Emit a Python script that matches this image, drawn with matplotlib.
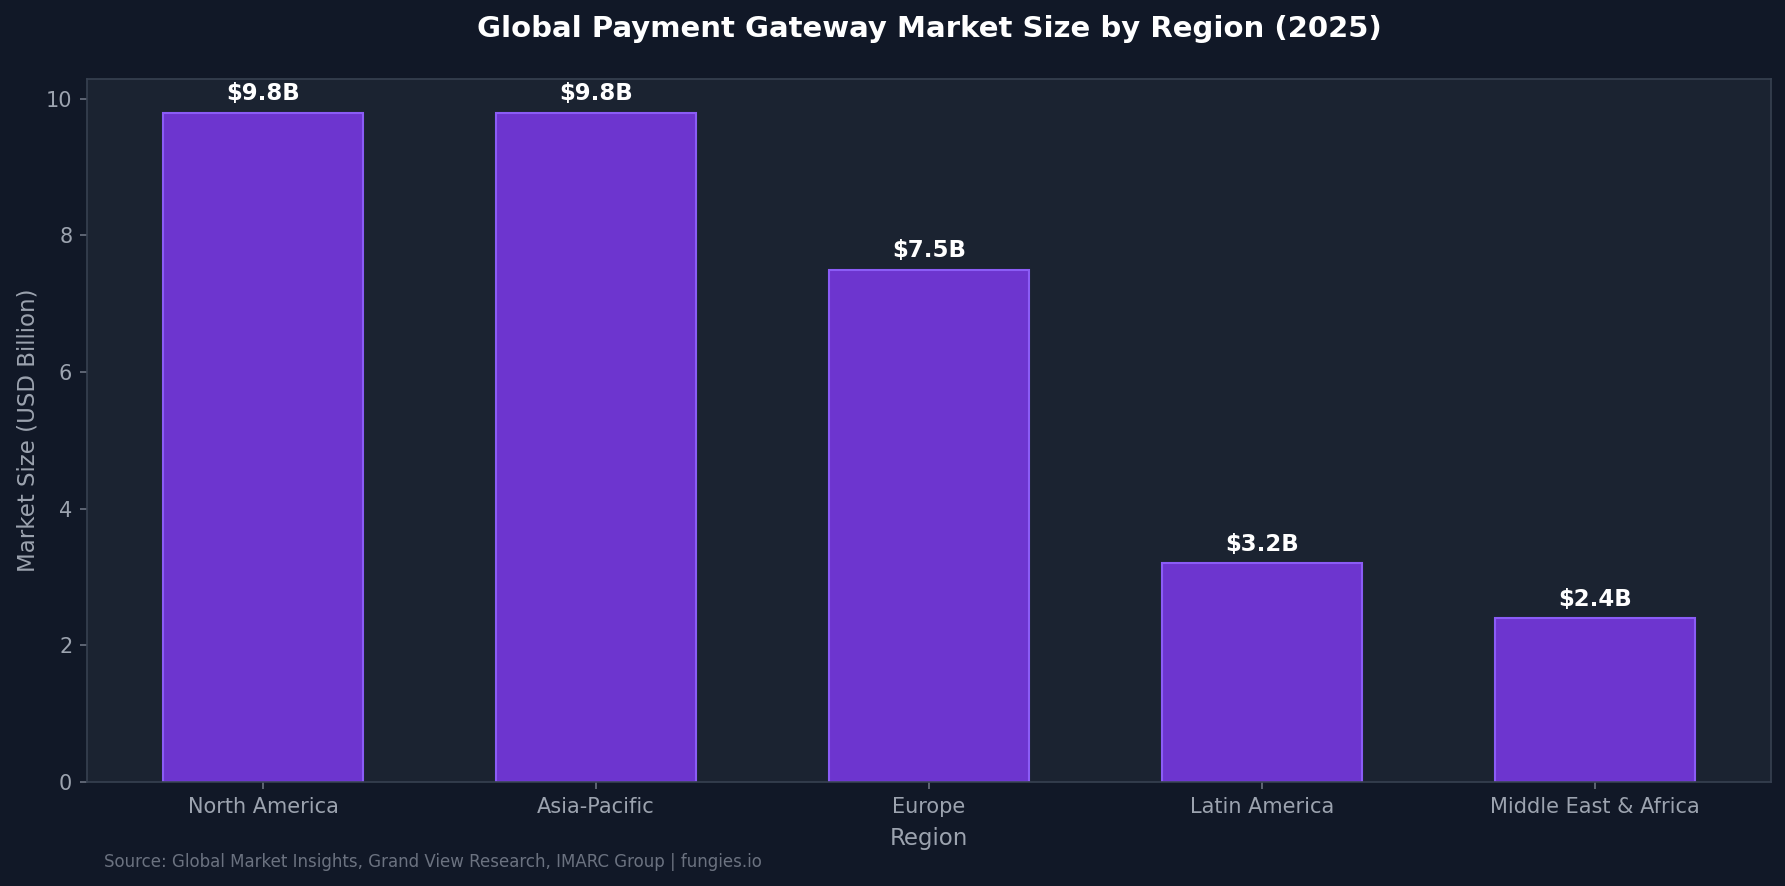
import matplotlib.pyplot as plt

regions = ['North America', 'Asia-Pacific', 'Europe', 'Latin America', 'Middle East & Africa']
market_size = [9.8, 9.8, 7.5, 3.2, 2.4]
value_labels = ['$9.8B', '$9.8B', '$7.5B', '$3.2B', '$2.4B']

fig_bg = '#111827'
ax_bg = '#1b2331'
grey = '#9ca3af'

fig = plt.figure(figsize=(11.9, 886 / 150), dpi=150, facecolor=fig_bg)
ax_left, ax_width = 0.0487, 0.9435
ax = fig.add_axes([ax_left, 0.1174, ax_width, 0.7934])
ax.set_facecolor(ax_bg)

bars = ax.bar(regions, market_size, width=0.6, color='#6d35cf',
              edgecolor='#8b5cf6', linewidth=1)
ax.bar_label(bars, labels=value_labels, padding=3.5, color='white',
             fontsize=11, fontweight='bold')

for side in ax.spines.values():
    side.set_color('#374151')
ax.tick_params(colors='#6b7280', labelcolor=grey, labelsize=10)
ax.set_ylabel('Market Size (USD Billion)', color=grey, fontsize=11, labelpad=3)
ax.set_xlabel('Region', color=grey, fontsize=11, labelpad=5)

# title is centred over the axes, not the figure
fig.text(ax_left + ax_width / 2, 0.967, 'Global Payment Gateway Market Size by Region (2025)',
         color='white', fontsize=14, fontweight='bold', ha='center', va='center')
fig.text(0.058, 0.027, 'Source: Global Market Insights, Grand View Research, IMARC Group | fungies.io',
         color='#6b7280', fontsize=8, va='center')

fig.savefig('out.png', dpi=150, facecolor=fig_bg)
